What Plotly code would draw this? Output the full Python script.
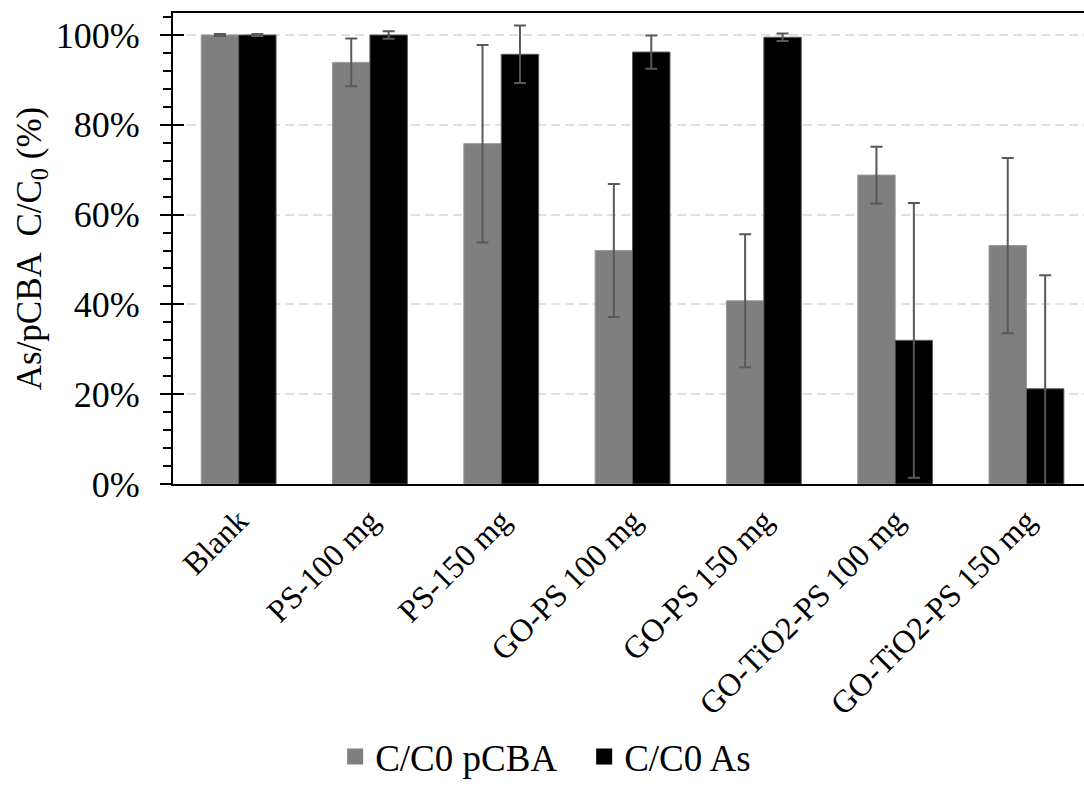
import plotly.graph_objects as go

# Sample groups and measured C/C0 ratios (%), with standard deviations
categories = ["Blank", "PS-100 mg", "PS-150 mg", "GO-PS 100 mg", "GO-PS 150 mg",
              "GO-TiO2-PS 100 mg", "GO-TiO2-PS 150 mg"]
pcba_vals = [100.0, 93.9, 75.8, 52.0, 40.8, 68.8, 53.1]
pcba_err = [0.2, 5.3, 22.0, 14.8, 14.8, 6.3, 19.5]
as_vals = [100.0, 100.0, 95.7, 96.2, 99.5, 32.0, 21.2]
as_err = [0.2, 0.85, 6.4, 3.7, 0.85, 30.6, 25.3]
series_names = ["C/C0 pCBA", "C/C0 As"]
y_ticks = [0, 20, 40, 60, 80, 100]
y_tick_labels = ["0%", "20%", "40%", "60%", "80%", "100%"]

GRAY = "#7f7f7f"
BLACK = "#000000"
ERR = "#595959"
FONT = "Liberation Serif"

fig = go.Figure()

fig.add_trace(go.Bar(
    x=categories, y=pcba_vals, name=series_names[0], showlegend=False,
    marker=dict(color=GRAY, line=dict(color="#9a9a9a", width=1)),
    error_y=dict(type="data", array=pcba_err, visible=True,
                 color=ERR, thickness=2, width=6),
))
fig.add_trace(go.Bar(
    x=categories, y=as_vals, name=series_names[1], showlegend=False,
    marker=dict(color=BLACK, line=dict(color="#5a5a5a", width=1)),
    error_y=dict(type="data", array=as_err, visible=True,
                 color=ERR, thickness=2, width=6),
))

# Legend entries with larger square swatches
for name, col in zip(series_names, [GRAY, BLACK]):
    fig.add_trace(go.Scatter(
        x=[None], y=[None], mode="markers", name=name, yaxis="y2",
        marker=dict(symbol="square", size=16, color=col),
    ))

yrange = [0, 104.9]

fig.update_layout(
    width=1084, height=788,
    margin=dict(l=173, r=0, t=13, b=304),
    paper_bgcolor="white", plot_bgcolor="white",
    barmode="group", bargap=0.43, bargroupgap=0,
    font=dict(family=FONT, size=34, color="black"),
    xaxis=dict(
        range=[-0.5, -0.5 + 911 / 131.3],
        showline=True, linecolor="black", linewidth=2, mirror=True,
        ticks="", tickangle=-45, showgrid=False,
        tickfont=dict(family=FONT, size=32, color="black"),
        ticklabelstandoff=3,
    ),
    yaxis=dict(
        range=yrange, tickmode="array", tickvals=y_ticks, ticktext=y_tick_labels,
        showline=True, linecolor="black", linewidth=2,
        ticks="outside", ticklen=11, tickwidth=2, tickcolor="black",
        minor=dict(dtick=4, ticks="outside", ticklen=8, tickwidth=2,
                   tickcolor="black", showgrid=False),
        showgrid=True, gridcolor="#e0e0e0", gridwidth=1.5, griddash="9px,5px",
        zeroline=False,
        tickfont=dict(family=FONT, size=36, color="black"),
        ticklabelstandoff=13,
        title=dict(text="As/pCBA  C/C<sub>0</sub> (%)",
                   font=dict(family=FONT, size=35, color="black"), standoff=4),
    ),
    yaxis2=dict(
        range=yrange, overlaying="y", side="left", anchor="x",
        tickvals=y_ticks, ticks="inside", ticklen=11, tickwidth=2,
        tickcolor="black", showticklabels=False, showgrid=False,
        zeroline=False, showline=False,
    ),
    legend=dict(
        orientation="h", x=0.178, xanchor="left", y=0, yanchor="bottom",
        yref="container", font=dict(family=FONT, size=37, color="black"),
        itemsizing="trace", bgcolor="rgba(0,0,0,0)",
        itemwidth=30, entrywidth=204,
    ),
)

fig.write_html("out.html")
